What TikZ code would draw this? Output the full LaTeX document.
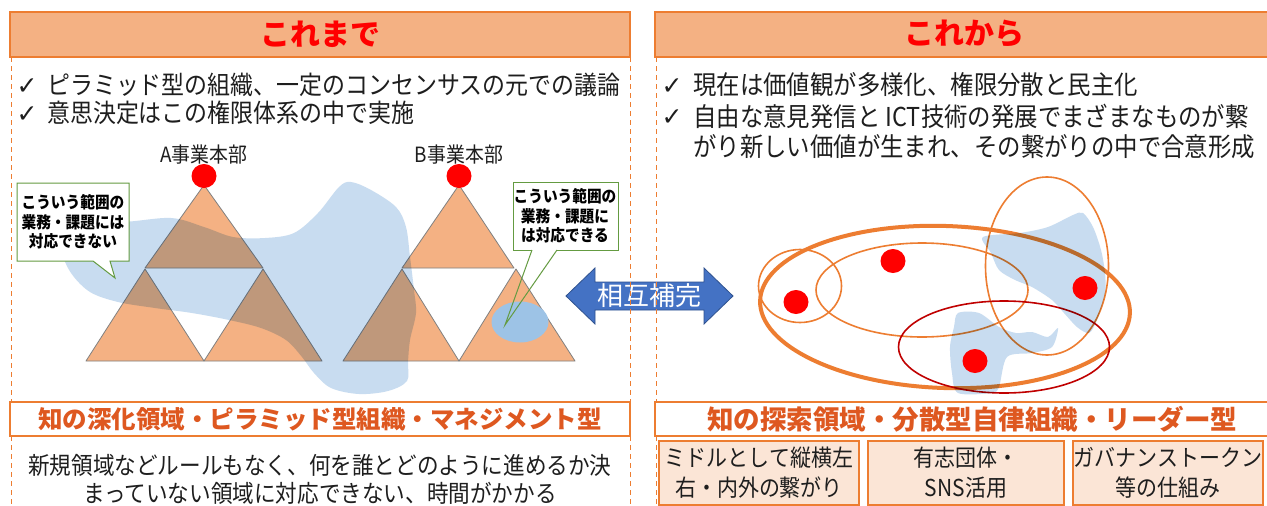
\documentclass[tikz,border=0pt]{standalone}
\usepackage{fontspec}
\setmainfont{Noto Sans CJK JP}
\newfontfamily\cond{Noto Sans CJK JP}[FakeStretch=0.9]
\newfontfamily\symfont{DejaVu Sans}
\usetikzlibrary{shapes.geometric}
\definecolor{orfill}{RGB}{244,177,131}
\definecolor{orline}{RGB}{237,125,49}
\definecolor{peach}{RGB}{251,229,214}
\definecolor{subtxt}{RGB}{222,88,32}
\definecolor{blobc}{RGB}{200,220,240}
\definecolor{spotc}{RGB}{157,195,230}
\definecolor{arrowc}{RGB}{68,114,196}
\definecolor{arrowb}{RGB}{47,82,143}
\definecolor{callg}{RGB}{100,155,65}
\definecolor{darkred}{RGB}{192,0,0}
\definecolor{trigray}{RGB}{128,128,128}
\definecolor{txt}{RGB}{30,30,30}
\newcommand\myfs[2]{\fontsize{#1}{#2}\selectfont}
\begin{document}
\begin{tikzpicture}[x=1pt,y=-1pt,
  hdr/.style={draw=orline, fill=orfill, line width=1.2pt},
  dashedge/.style={draw=orline, line width=1pt, dash pattern=on 5pt off 4pt},
  tri/.style={fill=orfill, draw=trigray, line width=0.8pt, line join=round},
  blob/.style={fill=blobc, draw=none, blend mode=multiply},
  dot/.style={ellipse, fill=red, draw=none, minimum width=25pt, minimum height=24pt, inner sep=0pt},
  callout/.style={draw=callg, line width=1pt, fill=white},
  calltxt/.style={font=\cond\myfs{16.3}{19.5}\bfseries, align=center, inner sep=0pt, text=black},
  chk/.style={font=\symfont\myfs{25}{26}, inner sep=0pt, text=txt},
  bullet/.style={anchor=west, inner sep=0pt, text=txt},
  ring/.style={ellipse, draw=orline, line width=1.6pt, inner sep=0pt},
  subbox/.style={draw=orline, line width=1.2pt, fill=white},
  smallbox/.style={draw=orline, line width=1.2pt, fill=peach, align=center, inner sep=0pt, text=txt, font=\cond\myfs{23.3}{30}},
]
\useasboundingbox (0,0) rectangle (1267,506);
\fill[white] (0,0) rectangle (1267,506);

% ---------- headers ----------
\draw[hdr] (10,12) rectangle (630,57);
\draw[hdr] (655,12) rectangle (1280,57);
\node[font=\myfs{30}{34}\bfseries, text=red] (t1) at (320,34) {これまで};
\node[font=\myfs{30}{34}\bfseries, text=red] (t2) at (964,34) {これから};

% ---------- left bullet text ----------
\node[chk] (c1) at (27,87) {✓};
\node[bullet, font=\cond\myfs{25.5}{28}] (l1) at (47,85) {ピラミッド型の組織、一定のコンセンサスの元での議論};
\node[chk] (c2) at (27,115) {✓};
\node[bullet, font=\cond\myfs{25.5}{28}] (l2) at (47,113) {意思決定はこの権限体系の中で実施};

% ---------- right bullet text ----------
\node[chk] (c3) at (672,87) {✓};
\node[bullet, font=\cond\myfs{26}{28}] (r1) at (693,85) {現在は価値観が多様化、権限分散と民主化};
\node[chk] (c4) at (672,118) {✓};
\node[bullet, font=\cond\myfs{26}{28}] (r2) at (693,116) {自由な意見発信と ICT技術の発展でまざまなものが繋};
\node[bullet, font=\cond\myfs{26}{28}] (r3) at (693,147) {がり新しい価値が生まれ、その繋がりの中で合意形成};

% ---------- pyramids ----------
\node[font=\cond\myfs{21}{22}, text=txt] (la) at (204,155) {A事業本部};
\node[font=\cond\myfs{21}{22}, text=txt] (lb) at (459,155) {B事業本部};

\filldraw[tri] (204,185) -- (145,268) -- (263,268) -- cycle;
\filldraw[tri] (145,269) -- (86,361) -- (204,361) -- cycle;
\filldraw[tri] (263,269) -- (204,361) -- (322,361) -- cycle;

\filldraw[tri] (459,185) -- (402,268) -- (514,268) -- cycle;
\filldraw[tri] (402,269) -- (343,361) -- (459,361) -- cycle;
\filldraw[tri] (516,269) -- (459,361) -- (575,361) -- cycle;

% big blob (left)
\fill[blob] plot[smooth cycle, tension=0.55] coordinates {
 (57,222) (122,222) (171,218) (204,227) (233,237) (265,238) (294,233)
 (318,213) (339,187) (351,182) (371,190) (396,207) (406,227) (410,257)
 (414,290) (416,313) (410,340) (408,362) (407,381) (388,391) (359,394)
 (331,388) (314,373) (302,357) (286,340) (261,328) (229,320) (192,313)
 (155,308) (118,302) (90,292) (71,273) (61,250)};

% spot in B
\node[ellipse, fill=spotc, minimum width=57pt, minimum height=41pt, inner sep=0pt] (spot) at (520,322) {};

\node[dot] (da) at (204,176) {};
\node[dot] (db) at (459,176) {};

% callouts
\filldraw[callout] (17,183) -- (129,183) -- (129,261) -- (110,261) -- (115,278) -- (93,261) -- (17,261) -- cycle;
\node[calltxt] (ca) at (73,222) {こういう範囲の\\業務・課題には\\対応できない};
\fill[white] (513,182) rectangle (618,250);
\draw[callg, line width=1pt] (532,250) -- (513,250) -- (513,182) -- (618,182) -- (618,250) -- (557,250);
\coordinate (tipb) at (505,325);
\draw[callg, line width=1pt] (532,250) -- (tipb) -- (557,250);
\node[calltxt] (cb) at (565,216) {こういう範囲の\\業務・課題に\\は対応できる};

% ---------- double arrow ----------
\filldraw[fill=arrowc, draw=arrowb, line width=0.8pt] (566,296) -- (595,268) -- (595,282) -- (704,282) -- (704,268) -- (733,296) -- (704,324) -- (704,310) -- (595,310) -- (595,324) -- cycle;
\node[font=\myfs{26}{28}, text=white] (mut) at (649,296) {相互補完};

% ---------- right network ----------
\node[ring, line width=4pt, minimum width=370pt, minimum height=162pt, rotate=-2] (big) at (945,307) {};
\node[ring, minimum width=83pt, minimum height=73pt] (sc) at (800,286) {};
\node[ring, minimum width=212pt, minimum height=94pt] (mid) at (922,290) {};
\node[ring, minimum width=123pt, minimum height=178pt] (tall) at (1047,266) {};
\node[ring, draw=darkred, minimum width=211pt, minimum height=92pt] (low) at (1004,347) {};

\fill[blob] plot[smooth cycle, tension=0.5] coordinates {
 (983,237) (1020,233) (1048,227) (1073,215) (1083,213) (1093,227) (1101,250)
 (1105,273) (1105,293) (1097,320) (1089,333) (1077,327) (1064,313) (1052,300)
 (1032,287) (1015,280) (999,270) (991,253)};
\fill[blob] plot[smooth cycle, tension=0.5] coordinates {
 (958,313) (979,313) (999,327) (1016,333) (1032,332) (1048,337) (1058,328)
 (1052,347) (1032,353) (1007,357) (999,387) (991,393) (958,393) (952,373)
 (950,347) (954,327)};

\node[dot] (d1) at (893,261) {};
\node[dot] (d2) at (796,302) {};
\node[dot] (d3) at (1085,288) {};
\node[dot] (d4) at (975,361) {};

% ---------- bottom ----------
\draw[subbox] (10,402) rectangle (630,436);
\node[font=\myfs{24.5}{28}\bfseries, text=subtxt] (s1) at (320,419) {知の深化領域・ピラミッド型組織・マネジメント型};
\node[align=center, font=\cond\myfs{24}{28}, text=txt] (bl) at (320,479) {新規領域などルールもなく、何を誰とどのように進めるか決\\まっていない領域に対応できない、時間がかかる};

\draw[subbox] (655,402) rectangle (1280,436);
\node[font=\myfs{26.5}{30}\bfseries, text=subtxt] (s2) at (972,419) {知の探索領域・分散型自律組織・リーダー型};
\node[smallbox, minimum width=200pt, minimum height=64pt] (b1) at (759,473) {ミドルとして縦横左\\右・内外の繋がり};
\node[smallbox, minimum width=196pt, minimum height=64pt] (b2) at (966,473) {有志団体・\\SNS活用};
\node[smallbox, minimum width=190pt, minimum height=64pt] (b3) at (1168,473) {ガバナンストークン\\等の仕組み};

% ---------- dashed panel edges ----------
\draw[dashedge] (11,57) -- (11,402);
\draw[dashedge] (11,436) -- (11,506);
\draw[dashedge] (630,57) -- (630,402);
\draw[dashedge] (630,436) -- (630,506);
\draw[dashedge] (656,57) -- (656,402);
\draw[dashedge] (656,436) -- (656,506);
\end{tikzpicture}
\end{document}
